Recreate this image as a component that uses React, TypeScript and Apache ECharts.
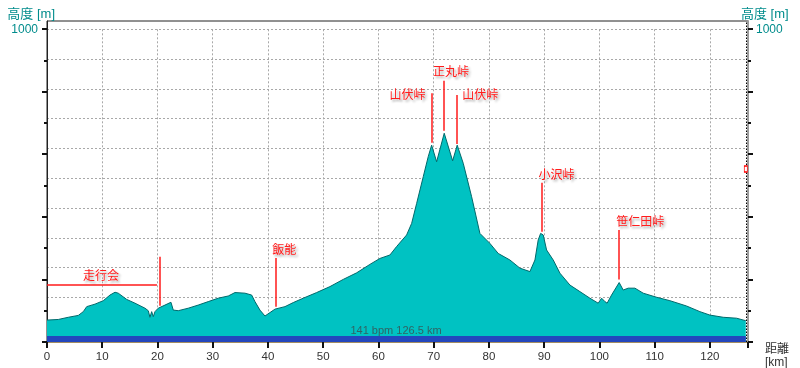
import React, { useEffect, useRef } from "react";
import * as echarts from "echarts";

// ---- data (km / m) ----
const distanceKm = [0, 2.05, 3.86, 5.67, 6.57, 7.19, 8.69, 10.19, 11.4, 12.31, 12.9, 14.43, 15.93, 17.74, 18.33, 18.64, 18.95, 19.24, 19.55, 20.14, 21.36, 22.44, 22.86, 23.76, 25.57, 27.38, 29.19, 31.0, 32.81, 34.03, 35.84, 37.05, 37.65, 38.55, 39.46, 40.36, 41.27, 43.08, 44.58, 46.39, 48.81, 51.22, 53.63, 56.05, 58.46, 60.27, 62.08, 63.29, 65.1, 66.01, 66.92, 68.11, 69.01, 69.63, 70.53, 71.91, 73.43, 74.26, 75.35, 76.87, 78.37, 80.18, 81.68, 83.8, 85.61, 87.42, 88.33, 88.92, 89.36, 89.83, 90.44, 91.64, 92.85, 94.66, 96.47, 98.28, 99.78, 100.4, 101.0, 101.4, 102.2, 103.58, 104.31, 105.21, 106.43, 107.93, 110.35, 112.76, 115.78, 118.19, 120.0, 122.41, 124.84, 126.5];
const elevationM = [70, 72, 79, 85, 97, 113, 121, 132, 150, 159, 156, 136, 124, 108, 100, 79, 97, 81, 97, 108, 118, 127, 102, 100, 108, 118, 129, 140, 147, 158, 156, 150, 129, 102, 83, 94, 105, 113, 126, 140, 158, 177, 200, 221, 248, 267, 278, 305, 342, 379, 443, 528, 592, 629, 576, 667, 579, 629, 571, 464, 347, 315, 283, 262, 236, 225, 262, 326, 347, 342, 294, 262, 220, 182, 161, 140, 124, 140, 129, 124, 150, 190, 166, 172, 172, 156, 143, 132, 115, 97, 86, 79, 76, 68];

const totalKm = 126.5;
const avgHr = 141;
const hrBandM = 19;
const xMaxKm = 126.9;
const yMaxM = 1025.6;

const xTickKm = [0, 10, 20, 30, 40, 50, 60, 70, 80, 90, 100, 110, 120];
const xTickMarks = [...xTickKm, xMaxKm];
const yMajorTicks = [0, 200, 400, 600, 800, 1000];
const yMinorTicks = [100, 300, 500, 700, 900];
const yLabelValues = [1000];
const gridLineSteps = 10;

// annotations: name, km, line top (m), line bottom (m), placement
const peakNames = ["山伏峠", "正丸峠", "山伏峠", "小沢峠", "笹仁田峠", "飯能"];
const peakKm = [69.63, 71.86, 74.26, 89.54, 103.58, 41.32];
const peakTopM = [795, 835, 789, 509, 358, 268];
const peakBottomM = [637, 675, 633, 352, 200, 113];
const peakPlace = ["left", "center", "right", "above", "above", "above"];

const clubName = "走行会";
const clubKm = 20.45;
const clubTopM = 272;
const clubBottomM = 116;
const clubLineM = 182;
const clubLineEndKm = 19.9;

const cursorKm = 126.5;
const cursorM = 553;

const FONT = '"Liberation Sans", "Noto Sans CJK JP", sans-serif';
const TEAL_TEXT = "#008c8c";
const RED = "#ff1a1a";

export default function App() {
  const ref = useRef<HTMLDivElement>(null);

  useEffect(() => {
    if (!ref.current) return;
    const chart = echarts.init(ref.current, undefined, { renderer: "svg" });
    const profile = distanceKm.map((d, i) => [d, elevationM[i]]);

    const redLines: any[] = peakKm.map((k, i) => [
      { coord: [k, peakTopM[i]], lineStyle: { color: RED, width: 1.5, type: "solid" } },
      { coord: [k, peakBottomM[i]] },
    ]);
    redLines.push([
      { coord: [clubKm, clubTopM], lineStyle: { color: RED, width: 1.5, type: "solid" } },
      { coord: [clubKm, clubBottomM] },
    ]);
    redLines.push([
      { coord: [0, clubLineM], lineStyle: { color: RED, width: 1.5, type: "solid" } },
      { coord: [clubLineEndKm, clubLineM] },
    ]);
    redLines.push({ xAxis: totalKm, lineStyle: { color: "#000", width: 1, type: [1.5, 1.5] } });

    const tickStyle = { color: "#111", width: 2 };
    const plain = (v: number) => String(v);

    const option: any = {
      animation: false,
      textStyle: { fontFamily: FONT },
      grid: [
        { left: 47, right: 52, top: 21, bottom: 26, show: true, borderColor: "#222", borderWidth: 1, backgroundColor: "transparent" },
        { left: 47, right: 52, top: 29.3, bottom: 40.7, show: false },
      ],
      xAxis: [
        {
          type: "value", gridIndex: 0, min: 0, max: xMaxKm, interval: 10,
          axisLine: { show: true, onZero: false, lineStyle: { color: "#a38c62", width: 1 } },
          axisTick: { show: true, length: 6, lineStyle: tickStyle, customValues: xTickMarks },
          axisLabel: { show: true, margin: 8, color: "#333", fontSize: 11.5, fontFamily: FONT, customValues: xTickKm, formatter: plain },
          splitLine: { show: false },
        },
        {
          type: "value", gridIndex: 1, min: 0, max: xMaxKm, interval: 10,
          axisLine: { show: false }, axisTick: { show: false }, axisLabel: { show: false },
          splitLine: { show: true, lineStyle: { color: "#a8a8a8", width: 1, type: [2, 2] } },
        },
      ],
      yAxis: [
        {
          type: "value", gridIndex: 0, position: "left", min: 0, max: yMaxM,
          axisLine: { show: true, lineStyle: { color: "#222", width: 1 } },
          axisTick: { show: true, length: 5, lineStyle: tickStyle, customValues: yMajorTicks },
          axisLabel: { show: true, margin: 9, color: TEAL_TEXT, fontSize: 12, fontFamily: FONT, customValues: yLabelValues, formatter: plain },
          splitLine: { show: false },
        },
        {
          type: "value", gridIndex: 0, position: "left", min: 0, max: yMaxM,
          axisLine: { show: false },
          axisTick: { show: true, length: 3, lineStyle: tickStyle, customValues: yMinorTicks },
          axisLabel: { show: false },
          splitLine: { show: false },
        },
        {
          type: "value", gridIndex: 0, position: "right", min: 0, max: yMaxM,
          axisLine: { show: true, lineStyle: { color: "#9c9c9c", width: 2 } },
          axisTick: { show: true, length: 5, lineStyle: tickStyle, customValues: yMajorTicks },
          axisLabel: { show: true, margin: 8, color: TEAL_TEXT, fontSize: 12, fontFamily: FONT, customValues: yLabelValues, formatter: plain },
          splitLine: { show: false },
        },
        {
          type: "value", gridIndex: 0, position: "right", min: 0, max: yMaxM,
          axisLine: { show: false },
          axisTick: { show: true, length: 3, lineStyle: tickStyle, customValues: yMinorTicks },
          axisLabel: { show: false },
          splitLine: { show: false },
        },
        {
          type: "value", gridIndex: 1, min: 0, max: gridLineSteps, interval: 1,
          axisLine: { show: false }, axisTick: { show: false }, axisLabel: { show: false },
          splitLine: { show: true, lineStyle: { color: "#a8a8a8", width: 1, type: [2, 2] } },
        },
      ],
      series: [
        {
          type: "line", xAxisIndex: 0, yAxisIndex: 0, data: profile,
          symbol: "none", smooth: false,
          lineStyle: { color: "#00696b", width: 1 },
          areaStyle: { color: "#00c2c2", opacity: 1 },
          z: 2,
          markLine: { silent: true, symbol: ["none", "none"], label: { show: false }, data: redLines, z: 5 },
          markPoint: {
            silent: true,
            data: [{ coord: [cursorKm, cursorM], symbol: "rect", symbolSize: [3, 6], itemStyle: { color: "#fff", borderColor: "#f00", borderWidth: 1 }, label: { show: false } }],
          },
        },
        {
          type: "line", xAxisIndex: 0, yAxisIndex: 0,
          data: [[0, hrBandM], [totalKm, hrBandM]],
          symbol: "none", lineStyle: { width: 0 },
          areaStyle: { color: "#2347bd", opacity: 1 },
          z: 3,
        },
      ],
    };
    chart.setOption(option);

    const px = (k: number, m: number) => chart.convertToPixel({ seriesIndex: 0 }, [k, m]) as number[];
    const labelStyle = (text: string, x: number, y: number, align: string) => ({
      type: "text",
      z: 20,
      style: {
        text, x, y, fill: RED, font: `12px ${FONT}`, align, verticalAlign: "middle",
        textShadowColor: "rgba(0,0,0,0.35)", textShadowBlur: 2, textShadowOffsetX: 2, textShadowOffsetY: 2,
      },
    });
    const graphics: any[] = [];
    peakNames.forEach((n, i) => {
      const [x, y] = px(peakKm[i], peakTopM[i]);
      const place = peakPlace[i];
      if (place === "left") graphics.push(labelStyle(n, x - 6, y + 2, "right"));
      else if (place === "right") graphics.push(labelStyle(n, x + 5, y, "left"));
      else if (place === "center") graphics.push(labelStyle(n, x + 7, y - 8.5, "center"));
      else graphics.push(labelStyle(n, x - 3, y - 8, "left"));
    });
    {
      const [x0] = px(0, clubLineM);
      const [x1, y1] = px(clubLineEndKm, clubLineM);
      graphics.push(labelStyle(clubName, (x0 + x1) / 2 - 1, y1 - 9, "center"));
    }
    {
      const [xa] = px(0, 0);
      const [xb, yb] = px(xMaxKm, hrBandM);
      graphics.push({
        type: "text", z: 20,
        style: { text: `${avgHr} bpm ${totalKm} km`, x: (xa + xb) / 2 - 1.5, y: yb - 6, fill: "#2f6464", font: `11px ${FONT}`, align: "center", verticalAlign: "middle" },
      });
      const [xl, yt] = px(0, yMaxM);
      graphics.push({ type: "text", z: 20, style: { text: "高度 [m]", x: xl + 8, y: yt - 8, fill: TEAL_TEXT, font: `13px ${FONT}`, align: "right", verticalAlign: "middle" } });
      graphics.push({ type: "text", z: 20, style: { text: "高度 [m]", x: xb - 7, y: yt - 8, fill: TEAL_TEXT, font: `13px ${FONT}`, align: "left", verticalAlign: "middle" } });
      const [, y0] = px(0, 0);
      graphics.push({ type: "text", z: 20, style: { text: "距離", x: xb + 17, y: y0 + 6.5, fill: "#333", font: `12px ${FONT}`, align: "left", verticalAlign: "middle" } });
      graphics.push({ type: "text", z: 20, style: { text: "[km]", x: xb + 17, y: y0 + 20, fill: "#333", font: `12px ${FONT}`, align: "left", verticalAlign: "middle" } });
    }
    chart.setOption({ graphic: graphics });

    return () => chart.dispose();
  }, []);

  return <div ref={ref} style={{ position: "fixed", left: 0, top: 0, width: 800, height: 368 }} />;
}
